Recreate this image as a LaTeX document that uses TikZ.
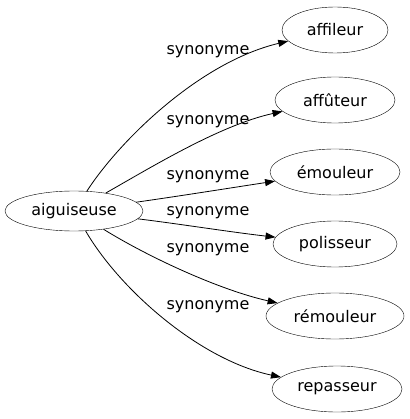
\documentclass[tikz,border=0pt]{standalone}
\usepackage{fontspec}
\setmainfont{DejaVu Sans}
\usetikzlibrary{shapes.geometric,arrows.meta}
\begin{document}
\begin{tikzpicture}[x=1pt,y=-1pt,
    mot/.style={draw,ellipse,inner sep=0pt,minimum height=46pt,font=\fontsize{16pt}{18pt}\selectfont},
    syn/.style={->,>={Triangle[length=10pt,width=7pt]},line width=0.8pt},
    etiq/.style={font=\fontsize{16pt}{18pt}\selectfont}]
    \useasboundingbox (0,0) rectangle (409,419);
    \node[mot,minimum width=138pt,minimum height=40pt] (aiguiseuse) at (74,211) {aiguiseuse};
    \node[mot,minimum width=106pt] (affileur) at (335,30) {affileur};
    \node[mot,minimum width=120pt] (affuteur) at (335,100) {affûteur};
    \node[mot,minimum width=130pt] (emouleur) at (335,172) {émouleur};
    \node[mot,minimum width=124pt] (polisseur) at (335,244) {polisseur};
    \node[mot,minimum width=138pt] (remouleur) at (335,316) {rémouleur};
    \node[mot,minimum width=130pt] (repasseur) at (337,389) {repasseur};
    \draw[syn] (aiguiseuse) .. controls (120,140) and (200,62) .. (affileur);
    \draw[syn] (aiguiseuse) .. controls (150,168) and (220,125) .. (affuteur);
    \draw[syn] (aiguiseuse) .. controls (180,196) and (230,188) .. (emouleur);
    \draw[syn] (aiguiseuse) .. controls (180,224) and (230,232) .. (polisseur);
    \draw[syn] (aiguiseuse) .. controls (150,258) and (220,290) .. (remouleur);
    \draw[syn] (aiguiseuse) .. controls (120,290) and (200,360) .. (repasseur);
    \node[etiq] (s1) at (208,52) {synonyme};
    \node[etiq] (s2) at (208,122) {synonyme};
    \node[etiq] (s3) at (208,177) {synonyme};
    \node[etiq] (s4) at (208,213) {synonyme};
    \node[etiq] (s5) at (208,250) {synonyme};
    \node[etiq] (s6) at (208,307) {synonyme};
\end{tikzpicture}
\end{document}
